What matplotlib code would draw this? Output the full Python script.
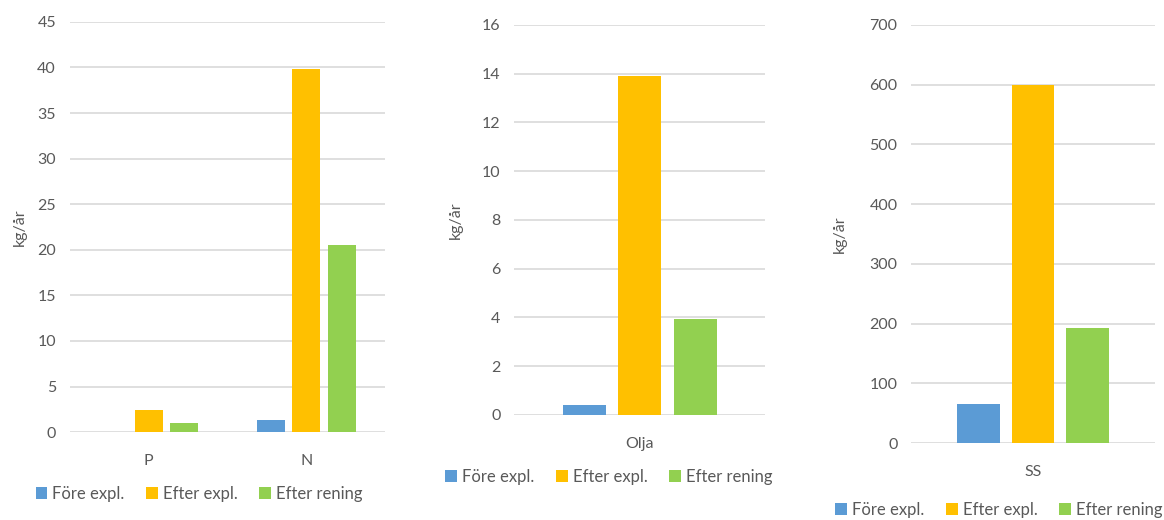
import matplotlib.pyplot as plt
import numpy as np

plt.rcParams['font.family'] = ['Lato', 'DejaVu Sans']

series = ['Före expl.', 'Efter expl.', 'Efter rening']
colors = ['#5B9BD5', '#FFC000', '#92D050']

cats1 = ['P', 'N']
fore1 = [0, 1.3]
efter1 = [2.4, 39.8]
rening1 = [1.0, 20.5]

cats2 = ['Olja']
fore2 = [0.42]
efter2 = [13.9]
rening2 = [3.95]

cats3 = ['SS']
fore3 = [65]
efter3 = [600]
rening3 = [192]

fig = plt.figure(figsize=(11.64, 5.2), dpi=100)
ax1 = fig.add_axes([0.060, 0.169, 0.271, 0.789])
ax2 = fig.add_axes([0.442, 0.202, 0.215, 0.750])
ax3 = fig.add_axes([0.783, 0.148, 0.209, 0.804])

grey = '#595959'


def draw(ax, cats, vals, ymax, step, width, off, ylab_x, leg_xy):
    x = np.arange(len(cats))
    for i, (v, c, name) in enumerate(zip(vals, colors, series)):
        ax.bar(x + (i - 1) * off, v, width, color=c, label=name, zorder=3)
    ax.set_xticks(x)
    ax.set_xticklabels(cats)
    ax.set_xlim(-0.5, len(cats) - 0.5)
    ax.set_ylim(0, ymax)
    ax.set_yticks(np.arange(0, ymax + step / 2, step))
    ax.yaxis.grid(True, color='#D9D9D9', linewidth=1.2, zorder=0)
    for s in ax.spines.values():
        s.set_visible(False)
    ax.tick_params(length=0, colors=grey, labelsize=11.5, pad=10)
    ax.tick_params(axis='x', pad=16)
    ax.set_ylabel('kg/år', color=grey, fontsize=11.5)
    ax.yaxis.set_label_coords(ylab_x, 0.5)
    ax.legend(loc='center', bbox_to_anchor=leg_xy, bbox_transform=fig.transFigure,
              ncol=3, frameon=False, handlelength=0.7, handleheight=0.7,
              handletextpad=0.3, columnspacing=1.3, fontsize=12,
              labelcolor=grey)


draw(ax1, cats1, [fore1, efter1, rening1], 45, 5, 0.178, 0.223, -0.135, (0.171, 0.05))
draw(ax2, cats2, [fore2, efter2, rening2], 16, 2, 0.172, 0.222, -0.208, (0.523, 0.083))
draw(ax3, cats3, [fore3, efter3, rening3], 700, 100, 0.176, 0.224, -0.267, (0.858, 0.019))

fig.savefig('out.png', dpi=100)
